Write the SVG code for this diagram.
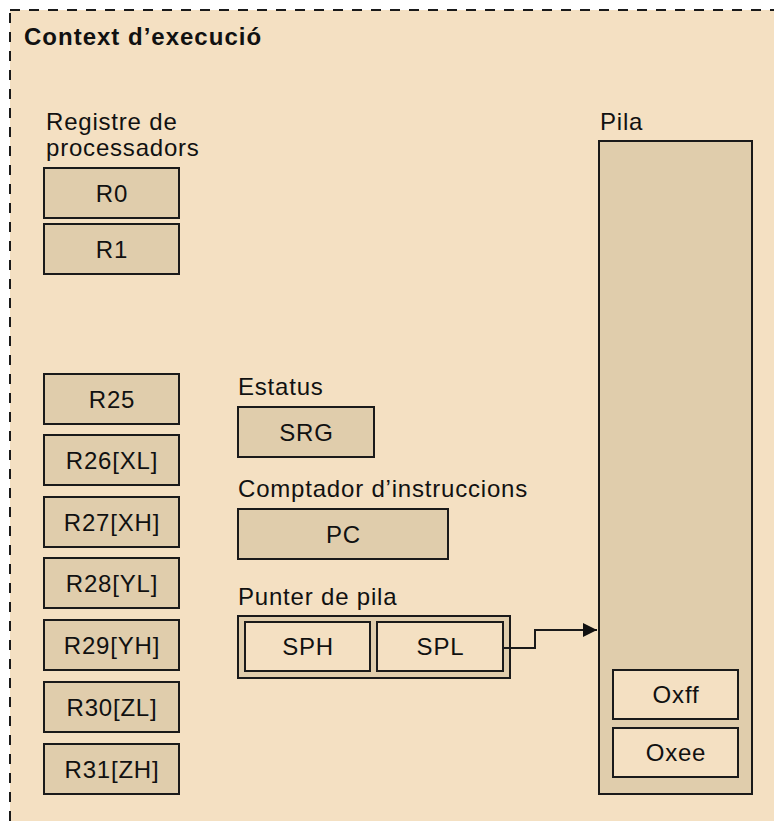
<svg xmlns="http://www.w3.org/2000/svg" width="774" height="821" viewBox="0 0 774 821">
  <defs>
    <style>
      text { font-family: "Liberation Sans", Arial, sans-serif; fill: #111; }
      .title { font-size: 24px; font-weight: bold; letter-spacing: 1px; }
      .lbl { font-size: 24px; letter-spacing: 0.8px; }
      .reg { font-size: 24px; letter-spacing: 0.8px; text-anchor: middle; }
      .box { fill: #E0CDAC; stroke: #1a1a1a; stroke-width: 2; }
      .light { fill: #F4E0C2; stroke: #1a1a1a; stroke-width: 2; }
      .wire { fill: none; stroke: #1a1a1a; stroke-width: 2; }
    </style>
    <marker id="arrow" viewBox="0 0 10 10" refX="10" refY="5" markerWidth="7" markerHeight="7" markerUnits="strokeWidth" orient="auto">
      <path d="M0,0 L10,5 L0,10 Z" fill="#111"/>
    </marker>
  </defs>

  <rect width="774" height="821" fill="#ffffff"/>

  <!-- execution context frame (right and bottom edges run off the page) -->
  <g id="context">
    <rect x="10" y="10" width="800" height="850" fill="#F4E0C2" stroke="#1a1a1a" stroke-width="2" stroke-dasharray="10,9"/>
    <text class="title" x="24" y="45">Context d’execució</text>
  </g>

  <!-- processor registers -->
  <g id="registers">
    <text class="lbl" x="46" y="130">Registre de</text>
    <text class="lbl" x="46" y="156">processadors</text>
  </g>
  <g id="r0"><rect class="box" x="44" y="168" width="135" height="50"/><text class="reg" x="112" y="202">R0</text></g>
  <g id="r1"><rect class="box" x="44" y="224" width="135" height="50"/><text class="reg" x="112" y="258">R1</text></g>
  <g id="r25"><rect class="box" x="44" y="374" width="135" height="50"/><text class="reg" x="112" y="408">R25</text></g>
  <g id="r26"><rect class="box" x="44" y="435" width="135" height="50"/><text class="reg" x="112" y="469">R26[XL]</text></g>
  <g id="r27"><rect class="box" x="44" y="497" width="135" height="50"/><text class="reg" x="112" y="531">R27[XH]</text></g>
  <g id="r28"><rect class="box" x="44" y="558" width="135" height="50"/><text class="reg" x="112" y="592">R28[YL]</text></g>
  <g id="r29"><rect class="box" x="44" y="620" width="135" height="50"/><text class="reg" x="112" y="654">R29[YH]</text></g>
  <g id="r30"><rect class="box" x="44" y="682" width="135" height="50"/><text class="reg" x="112" y="716">R30[ZL]</text></g>
  <g id="r31"><rect class="box" x="44" y="744" width="135" height="50"/><text class="reg" x="112" y="778">R31[ZH]</text></g>

  <!-- status register -->
  <g id="status">
    <text class="lbl" x="238" y="395">Estatus</text>
    <rect class="box" x="238" y="407" width="136" height="50"/>
    <text class="reg" x="306.5" y="441">SRG</text>
  </g>

  <!-- program counter -->
  <g id="pc">
    <text class="lbl" x="238" y="497">Comptador d’instruccions</text>
    <rect class="box" x="238" y="509" width="210" height="50"/>
    <text class="reg" x="343.5" y="543">PC</text>
  </g>

  <!-- stack pointer -->
  <g id="sp">
    <text class="lbl" x="238" y="605">Punter de pila</text>
    <rect class="box" x="238" y="616" width="272" height="62"/>
  </g>
  <g id="sph">
    <rect class="light" x="245" y="622" width="125" height="49"/>
    <text class="reg" x="308" y="655">SPH</text>
  </g>
  <g id="spl">
    <rect class="light" x="377" y="622" width="126" height="49"/>
    <text class="reg" x="440.5" y="655">SPL</text>
  </g>

  <!-- stack -->
  <g id="stack">
    <text class="lbl" x="600" y="130">Pila</text>
    <rect class="box" x="599" y="141" width="153" height="653"/>
  </g>
  <g id="oxff">
    <rect class="light" x="613" y="670" width="125" height="49"/>
    <text class="reg" x="676" y="703">Oxff</text>
  </g>
  <g id="oxee">
    <rect class="light" x="613" y="728" width="125" height="49"/>
    <text class="reg" x="676" y="761">Oxee</text>
  </g>

  <!-- connectors -->
  <g id="connectors">
    <path class="wire" d="M503,648 H535 V630 H597" marker-end="url(#arrow)"/>
  </g>
</svg>
